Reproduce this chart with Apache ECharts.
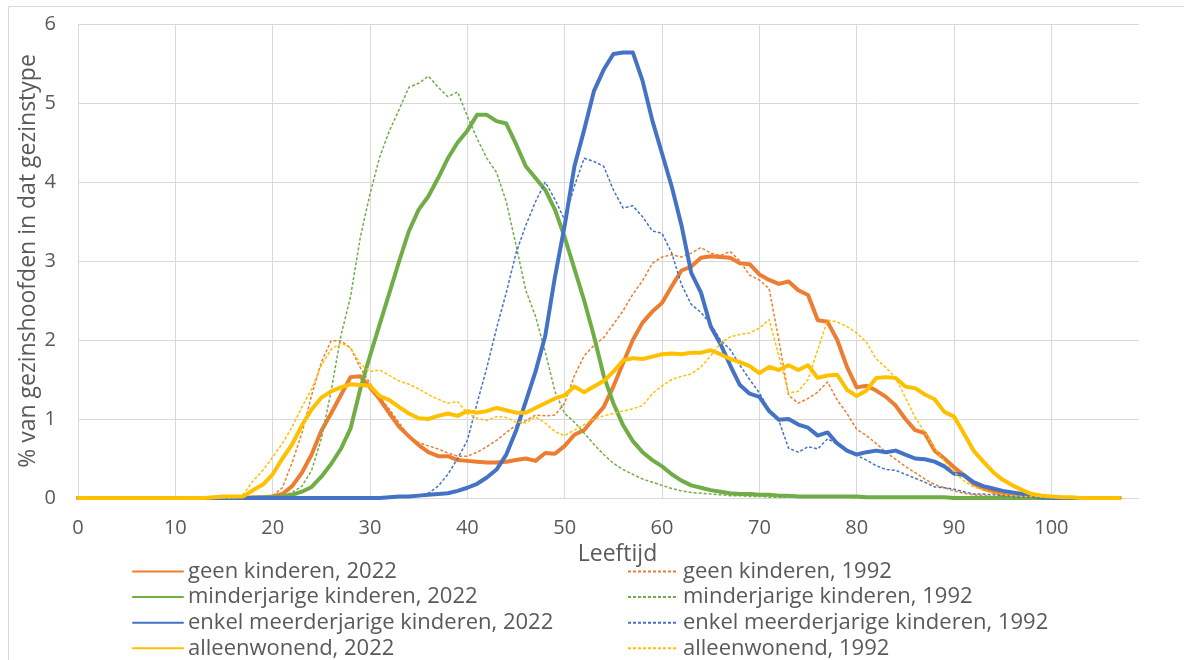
<!DOCTYPE html>
<html>
<head>
<meta charset="utf-8">
<title>Gezinshoofden naar leeftijd</title>
<script src="https://cdn.jsdelivr.net/npm/echarts@6/dist/echarts.min.js"></script>
<style>
  html, body { margin: 0; padding: 0; background: #ffffff; }
  #chart { width: 1184px; height: 660px; }
</style>
</head>
<body>
<div id="chart"></div>
<script>
// Leeftijd (categorie-as 0..109)
const ages = Array.from({ length: 110 }, (_, i) => String(i));

// 2022, leeftijd 0..107
const geenKinderen2022 = [
  0,0,0,0,0,0,0,0,0,0,0,0,0,0,0,0,0,0,
  0.01,0.01,0.02,0.05,0.15,0.32,0.55,0.85,1.07,1.3,1.53,1.54,
  1.4,1.25,1.07,0.9,0.78,0.67,0.58,0.53,0.53,0.48,
  0.47,0.46,0.45,0.45,0.46,0.48,0.5,0.47,0.57,0.56,
  0.66,0.8,0.86,1.01,1.15,1.41,1.71,2.0,2.22,2.36,
  2.47,2.68,2.88,2.93,3.04,3.06,3.05,3.04,2.97,2.96,
  2.83,2.76,2.71,2.74,2.63,2.57,2.25,2.23,2.0,1.66,
  1.4,1.42,1.36,1.28,1.17,1.0,0.86,0.82,0.6,0.5,
  0.39,0.29,0.18,0.12,0.08,0.04,0.02,0.01,0.01,0,
  0,0,0,0,0,0,0,0
];
const minderjarig2022 = [
  0,0,0,0,0,0,0,0,0,0,0,0,0,0,0,0,0,0,0,
  0.01,0.01,0.02,0.04,0.08,0.14,0.27,0.43,0.62,0.88,1.38,
  1.8,2.2,2.6,3.0,3.38,3.65,3.82,4.05,4.3,4.5,
  4.65,4.85,4.85,4.77,4.74,4.48,4.2,4.05,3.9,3.65,
  3.3,2.9,2.5,2.05,1.55,1.2,0.92,0.72,0.58,0.48,
  0.4,0.3,0.22,0.16,0.13,0.1,0.08,0.06,0.05,0.05,
  0.04,0.04,0.03,0.03,0.02,0.02,0.02,0.02,0.02,0.02,
  0.02,0.01,0.01,0.01,0.01,0.01,0.01,0.01,0.01,0.01,
  0,0,0,0,0,0,0,0,0,0,0,0,0,0,0,0,0,0
];
const enkelMeerderjarig2022 = [
  0,0,0,0,0,0,0,0,0,0,0,0,0,0,0,0,0,0,0,0,0,0,0,0,0,0,0,0,0,0,0,0,
  0.01,0.02,0.02,0.03,0.04,0.05,0.06,0.09,
  0.13,0.18,0.26,0.36,0.55,0.85,1.22,1.6,2.05,2.8,
  3.45,4.2,4.66,5.15,5.42,5.62,5.64,5.64,5.28,4.78,
  4.36,3.94,3.45,2.85,2.6,2.17,1.95,1.68,1.43,1.32,
  1.28,1.1,0.99,1.0,0.93,0.89,0.79,0.83,0.69,0.6,
  0.55,0.58,0.6,0.58,0.6,0.55,0.5,0.49,0.46,0.4,
  0.31,0.29,0.2,0.15,0.12,0.09,0.07,0.05,0.03,0.01,
  0,0,0,0,0,0,0,0
];
const alleenwonend2022 = [
  0,0,0,0,0,0,0,0,0,0,0,0,0,0,
  0.01,0.02,0.02,0.02,0.1,0.17,
  0.3,0.5,0.68,0.92,1.12,1.27,1.35,1.4,1.44,1.43,
  1.42,1.29,1.24,1.15,1.07,1.01,1.0,1.04,1.07,1.04,
  1.1,1.08,1.1,1.14,1.11,1.08,1.08,1.14,1.2,1.26,
  1.3,1.41,1.34,1.41,1.48,1.6,1.74,1.77,1.76,1.79,
  1.82,1.83,1.82,1.84,1.84,1.87,1.82,1.76,1.72,1.67,
  1.58,1.66,1.62,1.68,1.62,1.68,1.52,1.55,1.56,1.37,
  1.29,1.36,1.52,1.53,1.52,1.41,1.39,1.31,1.25,1.09,
  1.03,0.82,0.6,0.46,0.33,0.23,0.16,0.1,0.05,0.03,
  0.02,0.01,0.01,0,0,0,0,0
];

// 1992, leeftijd 0..100
const geenKinderen1992 = [
  0,0,0,0,0,0,0,0,0,0,0,0,0,0,0,0,0,0,0,0,
  0.03,0.13,0.45,0.82,1.3,1.72,1.99,1.99,1.9,1.65,
  1.45,1.28,1.12,0.95,0.78,0.7,0.66,0.62,0.57,0.53,
  0.53,0.58,0.65,0.73,0.83,0.92,0.98,1.05,1.04,1.05,
  1.2,1.55,1.8,1.93,2.03,2.2,2.37,2.58,2.75,2.97,
  3.05,3.08,3.05,3.1,3.17,3.1,3.07,3.12,3.0,2.82,
  2.76,2.65,2.0,1.3,1.2,1.26,1.34,1.47,1.24,1.07,
  0.87,0.79,0.69,0.58,0.49,0.4,0.32,0.24,0.17,0.13,
  0.09,0.06,0.04,0.03,0.02,0.01,0.01,0,0,0,0
];
const minderjarig1992 = [
  0,0,0,0,0,0,0,0,0,0,0,0,0,0,0,0,0,0,0,0,
  0.01,0.03,0.07,0.15,0.35,0.75,1.35,2.05,2.55,3.3,
  3.85,4.32,4.65,4.92,5.2,5.25,5.34,5.2,5.08,5.14,
  4.83,4.55,4.3,4.12,3.75,3.2,2.63,2.3,1.85,1.35,
  1.07,0.96,0.82,0.68,0.55,0.44,0.36,0.3,0.24,0.2,
  0.16,0.12,0.09,0.07,0.06,0.05,0.04,0.03,0.03,0.02,
  0.02,0.01,0.01,0.01,0.01,0.01,0.01,0.01,0.01,0.01,
  0,0,0,0,0,0,0,0,0,0,0,0,0,0,0,0,0,0,0,0,0
];
const enkelMeerderjarig1992 = [
  0,0,0,0,0,0,0,0,0,0,0,0,0,0,0,0,0,0,0,0,0,0,0,0,0,0,0,0,0,0,0,0,0,
  0.01,0.02,0.03,0.06,0.15,0.3,0.5,
  0.73,1.2,1.65,2.15,2.6,3.1,3.45,3.75,4.0,3.78,
  3.52,3.95,4.3,4.26,4.2,3.9,3.67,3.7,3.56,3.38,
  3.35,3.1,2.7,2.45,2.35,2.2,2.0,1.88,1.68,1.5,
  1.33,1.12,0.98,0.63,0.58,0.65,0.62,0.75,0.68,0.6,
  0.54,0.48,0.41,0.36,0.35,0.3,0.25,0.2,0.14,0.13,
  0.11,0.08,0.05,0.05,0.04,0.03,0.02,0.01,0.01,0,0
];
const alleenwonend1992 = [
  0,0,0,0,0,0,0,0,0,0,0,0,0,0,0,0,0,
  0.05,0.22,0.35,
  0.52,0.69,0.9,1.15,1.38,1.68,1.88,1.96,1.9,1.7,
  1.6,1.62,1.55,1.48,1.44,1.38,1.31,1.25,1.2,1.22,
  1.07,1.01,0.98,1.03,1.02,0.96,0.95,1.03,0.95,0.84,
  0.79,0.86,0.93,1.0,1.04,1.07,1.1,1.13,1.17,1.32,
  1.42,1.5,1.54,1.57,1.66,1.8,1.96,2.04,2.07,2.09,
  2.15,2.26,1.8,1.33,1.35,1.5,1.88,2.25,2.23,2.17,
  2.09,1.97,1.76,1.65,1.52,1.27,1.02,0.83,0.63,0.47,
  0.33,0.22,0.14,0.1,0.06,0.04,0.03,0.02,0.02,0.01,0
];

const names2022 = [
  'geen kinderen, 2022',
  'minderjarige kinderen, 2022',
  'enkel meerderjarige kinderen, 2022',
  'alleenwonend, 2022'
];
const names1992 = [
  'geen kinderen, 1992',
  'minderjarige kinderen, 1992',
  'enkel meerderjarige kinderen, 1992',
  'alleenwonend, 1992'
];
const colors = ['#ED7D31', '#70AD47', '#4472C4', '#FFC000'];
const values2022 = [geenKinderen2022, minderjarig2022, enkelMeerderjarig2022, alleenwonend2022];
const values1992 = [geenKinderen1992, minderjarig1992, enkelMeerderjarig1992, alleenwonend1992];

const FONT = 'Open Sans';
const TEXT = '#595959';
const GRID = '#d9d9d9';

// Series in legend order: each 2022 line followed by its 1992 counterpart
const series = [];
for (let i = 0; i < 4; i++) {
  series.push({
    name: names2022[i],
    type: 'line',
    data: values2022[i],
    symbol: 'none',
    color: colors[i],
    lineStyle: { width: 4, color: colors[i], cap: 'round', join: 'round' }
  });
  series.push({
    name: names1992[i],
    type: 'line',
    data: values1992[i],
    symbol: 'none',
    color: colors[i],
    lineStyle: { width: 1.5, color: colors[i], type: [3, 2] }
  });
}

// Legend entries show only the line sample, no marker
const legendBase = {
  orient: 'vertical',
  itemWidth: 50,
  itemHeight: 25,
  itemGap: 3.6,
  padding: 0,
  selectedMode: false,
  itemStyle: { opacity: 0 },
  textStyle: { fontFamily: FONT, fontSize: 22, color: TEXT }
};

const chart = echarts.init(document.getElementById('chart'), null, { renderer: 'canvas' });
chart.setOption({
  backgroundColor: '#ffffff',
  animation: false,
  textStyle: { fontFamily: FONT },
  graphic: [{
    type: 'rect',
    silent: true,
    z: -10,
    shape: { x: 8.5, y: 6.5, width: 1300, height: 800 },
    style: { fill: 'none', stroke: GRID, lineWidth: 1 }
  }],
  grid: { left: 78, right: 45, top: 24, bottom: 162, containLabel: false },
  legend: [
    Object.assign({ data: names2022, left: 132, top: 560.5 }, legendBase),
    Object.assign({ data: names1992, left: 627, top: 560.5 }, legendBase)
  ],
  xAxis: {
    type: 'category',
    data: ages,
    boundaryGap: false,
    name: 'Leeftijd',
    nameLocation: 'middle',
    nameGap: 38,
    nameTextStyle: { fontFamily: FONT, fontSize: 23, color: TEXT, padding: [0, 0, 0, 18] },
    axisLine: { show: true, lineStyle: { color: GRID, width: 1 } },
    axisTick: { show: false },
    axisLabel: { interval: 9, margin: 20, fontFamily: FONT, fontSize: 20, color: TEXT },
    splitLine: { show: true, interval: 9, lineStyle: { color: GRID, width: 1 } }
  },
  yAxis: {
    type: 'value',
    min: 0,
    max: 6,
    interval: 1,
    name: '% van gezinshoofden in dat gezinstype',
    nameLocation: 'middle',
    nameGap: 38,
    nameMoveOverlap: false,
    nameRotate: 90,
    nameTextStyle: { fontFamily: FONT, fontSize: 23, color: TEXT },
    axisLine: { show: false },
    axisTick: { show: false },
    axisLabel: { margin: 22, fontFamily: FONT, fontSize: 20, color: TEXT },
    splitLine: { show: true, lineStyle: { color: GRID, width: 1 } }
  },
  series: series
});
</script>
</body>
</html>
